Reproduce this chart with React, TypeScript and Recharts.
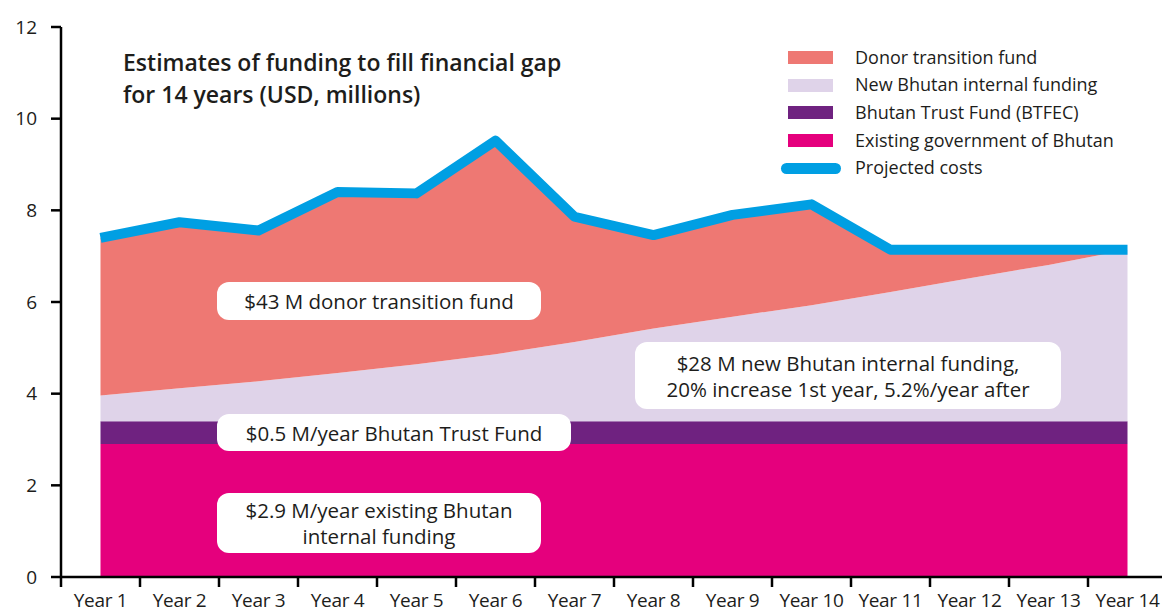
import React from "react";
import { ComposedChart, Area, Line, XAxis, YAxis } from "recharts";

const YEARS = [
  "Year 1", "Year 2", "Year 3", "Year 4", "Year 5", "Year 6", "Year 7",
  "Year 8", "Year 9", "Year 10", "Year 11", "Year 12", "Year 13", "Year 14",
];
const EXISTING = [2.9, 2.9, 2.9, 2.9, 2.9, 2.9, 2.9, 2.9, 2.9, 2.9, 2.9, 2.9, 2.9, 2.9];
const BTFEC = [0.5, 0.5, 0.5, 0.5, 0.5, 0.5, 0.5, 0.5, 0.5, 0.5, 0.5, 0.5, 0.5, 0.5];
const NEW_INTERNAL = [0.56, 0.72, 0.87, 1.05, 1.24, 1.46, 1.73, 2.02, 2.28, 2.53, 2.82, 3.12, 3.41, 3.74];
const DONOR = [3.44, 3.62, 3.29, 3.95, 3.73, 4.66, 2.73, 2.04, 2.22, 2.2, 0.92, 0.62, 0.33, 0];
const PROJECTED = [7.4, 7.74, 7.56, 8.4, 8.37, 9.52, 7.86, 7.46, 7.9, 8.13, 7.14, 7.14, 7.14, 7.14];
const Y_TICKS = [0, 2, 4, 6, 8, 10, 12];

const data = YEARS.map((year, i) => ({
  year,
  existing: EXISTING[i],
  btfec: BTFEC[i],
  internal: NEW_INTERNAL[i],
  donor: DONOR[i],
  projected: PROJECTED[i],
}));

const FONT = "'Open Sans', 'Noto Sans', sans-serif";
const TEXT = "#1d1d1b";
const BAND = 79;

const legendItems = [
  { name: "Donor transition fund", color: "#ee7873", line: false },
  { name: "New Bhutan internal funding", color: "#dfd3e9", line: false },
  { name: "Bhutan Trust Fund (BTFEC)", color: "#6f2280", line: false },
  { name: "Existing government of Bhutan", color: "#e5007d", line: false },
  { name: "Projected costs", color: "#009fe3", line: true },
];

function YearTick(props: any) {
  const { x, y, payload, index } = props;
  const last = index === YEARS.length - 1;
  return (
    <g>
      <line x1={x - BAND / 2} x2={x - BAND / 2} y1={y} y2={y + 10} stroke="#000" strokeWidth={2.5} />
      {last && <line x1={x + BAND / 2} x2={x + BAND / 2} y1={y} y2={y + 10} stroke="#000" strokeWidth={2.5} />}
      <text x={x} y={y + 30} textAnchor="middle" fontSize={19} fill={TEXT} fontFamily={FONT} letterSpacing={-0.3}>
        {payload.value}
      </text>
    </g>
  );
}

function LegendBox() {
  return (
    <div style={{ position: "absolute", left: 780, top: 43.5, width: 380, fontFamily: FONT, fontSize: 18, color: TEXT }}>
      {legendItems.map((it) => (
        <div key={it.name} style={{ position: "relative", height: 27.7 }}>
          {it.line ? (
            <div style={{ position: "absolute", left: 1, top: 8.5, width: 60, height: 11, borderRadius: 6, background: it.color }} />
          ) : (
            <div style={{ position: "absolute", left: 8, top: 7.5, width: 45, height: 13, background: it.color }} />
          )}
          <div style={{ position: "absolute", left: 75, top: 0, lineHeight: "27.7px", whiteSpace: "nowrap" }}>{it.name}</div>
        </div>
      ))}
    </div>
  );
}

const boxStyle: React.CSSProperties = {
  position: "absolute",
  background: "#fff",
  borderRadius: 12,
  fontFamily: FONT,
  fontSize: 20.5,
  color: TEXT,
  textAlign: "center",
  display: "flex",
  alignItems: "center",
  justifyContent: "center",
  lineHeight: "26px",
  whiteSpace: "nowrap",
};

export default function App() {
  return (
    <div style={{ position: "absolute", left: 0, top: 0, width: 1162, height: 610, overflow: "hidden", background: "#fff" }}>
      <ComposedChart
        width={1170}
        height={610}
        data={data}
        margin={{ top: 27, right: 3, left: 0, bottom: 0 }}
      >
        <XAxis
          dataKey="year"
          height={33}
          padding={{ left: BAND / 2, right: BAND / 2 }}
          axisLine={{ stroke: "#000", strokeWidth: 2.5 }}
          tickLine={false}
          tickSize={0}
          tickMargin={0}
          interval={0}
          tick={<YearTick />}
        />
        <YAxis
          width={61}
          domain={[0, 12]}
          ticks={Y_TICKS}
          interval={0}
          axisLine={{ stroke: "#000", strokeWidth: 2.5 }}
          tickLine={{ stroke: "#000", strokeWidth: 2.5 }}
          tickSize={10}
          tickMargin={14}
          tick={{ fontSize: 19, fill: TEXT, fontFamily: FONT }}
        />
        <Area type="linear" dataKey="existing" stackId="1" stroke="none" fill="#e5007d" fillOpacity={1} isAnimationActive={false} />
        <Area type="linear" dataKey="btfec" stackId="1" stroke="none" fill="#6f2280" fillOpacity={1} isAnimationActive={false} />
        <Area type="linear" dataKey="internal" stackId="1" stroke="none" fill="#dfd3e9" fillOpacity={1} isAnimationActive={false} />
        <Area type="linear" dataKey="donor" stackId="1" stroke="none" fill="#ee7873" fillOpacity={1} isAnimationActive={false} />
        <Line
          type="linear"
          dataKey="projected"
          stroke="#009fe3"
          strokeWidth={10}
          strokeLinejoin="round"
          dot={false}
          activeDot={false}
          isAnimationActive={false}
        />
      </ComposedChart>

      <LegendBox />

      <div style={{ position: "absolute", left: 123, top: 46, fontFamily: FONT, fontSize: 23, fontWeight: 600, lineHeight: "32px", color: TEXT, whiteSpace: "nowrap" }}>
        Estimates of funding to fill financial gap
        <br />
        for 14 years (USD, millions)
      </div>

      <div style={{ ...boxStyle, left: 217, top: 282, width: 324, height: 38 }}>$43 M donor transition fund</div>
      <div style={{ ...boxStyle, left: 635, top: 342, width: 426, height: 67 }}>
        $28 M new Bhutan internal funding,
        <br />
        20% increase 1st year, 5.2%/year after
      </div>
      <div style={{ ...boxStyle, left: 217, top: 414, width: 354, height: 37 }}>$0.5 M/year Bhutan Trust Fund</div>
      <div style={{ ...boxStyle, left: 217, top: 493, width: 324, height: 60 }}>
        $2.9 M/year existing Bhutan
        <br />
        internal funding
      </div>
    </div>
  );
}
